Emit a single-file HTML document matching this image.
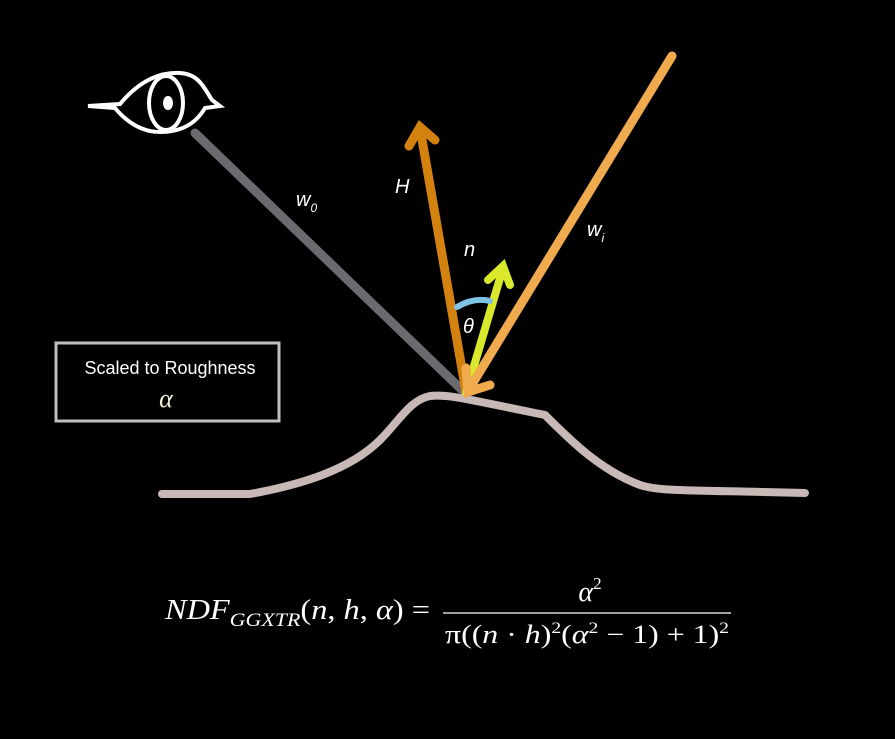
<!DOCTYPE html>
<html><head><style>body{margin:0;background:#000}svg{display:block}</style></head>
<body>
<svg width="895" height="739" viewBox="0 0 895 739" xmlns="http://www.w3.org/2000/svg">
<rect width="895" height="739" fill="#000"/>
<g fill="none" stroke="#fff" stroke-width="4" stroke-linecap="round">
<path d="M88 106 L120 104 C140 80 160 72 180 73 C200 74 205 90 212 100 L220 106 L205 108 C195 125 180 132 160 132 C140 132 125 120 115 108 Z"/>
<ellipse cx="166" cy="103" rx="17" ry="27"/>
<ellipse cx="168" cy="103" rx="3" ry="5" fill="#fff"/>
</g>
<line x1="195" y1="133" x2="462" y2="390" stroke="#6a6b70" stroke-width="9" stroke-linecap="round"/>
<path d="M162 494 L250 494 C300 485 350 470 380 440 C400 420 410 400 430 396 C450 394 470 400 545 415 C570 440 600 470 640 485 C660 492 700 490 805 493" fill="none" stroke="#c8b9b6" stroke-width="8" stroke-linecap="round"/>
<g stroke="#d4820f" stroke-width="9" stroke-linecap="round" fill="none">
<line x1="466" y1="392" x2="420" y2="128"/>
<polyline points="409,146 420,127 435,140"/>
</g>
<g stroke="#d9e82b" stroke-width="8" stroke-linecap="round" fill="none">
<line x1="466" y1="393" x2="503" y2="268"/>
<polyline points="488,280 503,266 510,285"/>
</g>
<path d="M457 307 Q474 297 490 301" fill="none" stroke="#7ec3e3" stroke-width="6" stroke-linecap="round"/>
<g stroke="#f0ab4f" stroke-width="9" stroke-linecap="round" fill="none">
<line x1="672" y1="56" x2="468" y2="391"/>
<polyline points="466,368 468,392 490,385"/>
</g>
<g font-family="'Liberation Sans',sans-serif" font-style="italic" fill="#fff" font-size="20">
<text x="296" y="206">w<tspan font-size="12" dy="6">0</tspan></text>
<text x="395" y="193">H</text>
<text x="464" y="256">n</text>
<text x="587" y="236">w<tspan font-size="12" dy="6">i</tspan></text>
<text x="463" y="333">θ</text>
</g>
<rect x="56" y="343" width="223" height="78" fill="none" stroke="#c0c0c0" stroke-width="3"/>
<text x="170" y="374" text-anchor="middle" fill="#fff" font-family="'Liberation Sans',sans-serif" font-size="18">Scaled to Roughness</text>
<text x="166" y="407" text-anchor="middle" fill="#f5f0d8" font-family="'Liberation Serif',serif" font-style="italic" font-size="26">α</text>
<g font-family="'Liberation Serif',serif" fill="#fff">
<text x="165" y="619" font-size="28" textLength="265" lengthAdjust="spacingAndGlyphs"><tspan font-style="italic">NDF</tspan><tspan font-style="italic" font-size="19" dy="7">GGXTR</tspan><tspan dy="-7">(</tspan><tspan font-style="italic">n</tspan>, <tspan font-style="italic">h</tspan>, <tspan font-style="italic">α</tspan>) =</text>
<text x="590" y="601" text-anchor="middle" font-size="28"><tspan font-style="italic">α</tspan><tspan font-size="17" dy="-12">2</tspan></text>
<line x1="443" y1="613" x2="731" y2="613" stroke="#fff" stroke-width="1.3"/>
<text x="445" y="643" font-size="26" textLength="284" lengthAdjust="spacingAndGlyphs">π((<tspan font-style="italic">n</tspan> · <tspan font-style="italic">h</tspan>)<tspan font-size="16" dy="-10">2</tspan><tspan dy="10">(</tspan><tspan font-style="italic">α</tspan><tspan font-size="16" dy="-10">2</tspan><tspan dy="10"> − 1) + 1)</tspan><tspan font-size="16" dy="-10">2</tspan></text>
</g>
</svg>
</body></html>
